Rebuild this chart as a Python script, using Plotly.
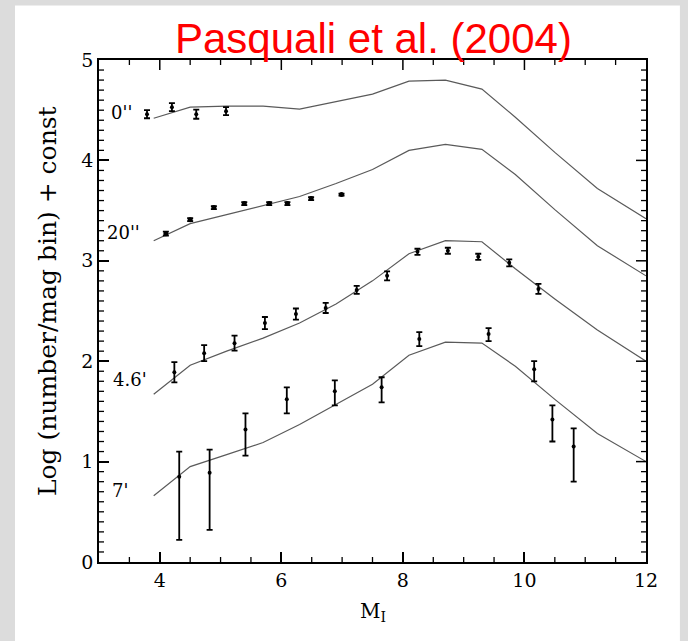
import numpy as np
import plotly.graph_objects as go

# ---- model curves (lines) ----
model_mag = [3.9, 4.5, 5.1, 5.7, 6.3, 6.9, 7.5, 8.1, 8.7, 9.3, 9.85, 10.5, 11.2, 12.0]
model_0s = [4.42, 4.53, 4.54, 4.54, 4.51, 4.585, 4.66, 4.79, 4.80, 4.71, 4.43, 4.08, 3.72, 3.42]
model_20s = [3.20, 3.37, 3.46, 3.55, 3.64, 3.77, 3.91, 4.10, 4.16, 4.11, 3.86, 3.51, 3.15, 2.85]
model_46m = [1.67, 1.96, 2.10, 2.23, 2.38, 2.57, 2.80, 3.07, 3.20, 3.19, 2.92, 2.62, 2.31, 2.00]
model_7m = [0.66, 0.95, 1.07, 1.19, 1.37, 1.57, 1.77, 2.06, 2.19, 2.18, 1.95, 1.62, 1.28, 1.00]

# ---- observed points ----
mag_0s = [3.79, 4.20, 4.60, 5.09]
lf_0s = [4.46, 4.53, 4.46, 4.49]
err_0s = [0.04, 0.04, 0.045, 0.04]

mag_20s = [4.10, 4.50, 4.89, 5.39, 5.80, 6.10, 6.49, 6.99]
lf_20s = [3.27, 3.41, 3.53, 3.57, 3.57, 3.57, 3.62, 3.66]
err_20s = [0.02, 0.015, 0.015, 0.015, 0.015, 0.015, 0.015, 0.01]

mag_46m = [4.24, 4.73, 5.23, 5.73, 6.24, 6.73, 7.24, 7.74, 8.24, 8.74, 9.24, 9.75, 10.23]
lf_46m = [1.89, 2.08, 2.18, 2.38, 2.47, 2.53, 2.71, 2.85, 3.09, 3.10, 3.04, 2.98, 2.72]
err_46m = [0.10, 0.08, 0.075, 0.06, 0.055, 0.05, 0.04, 0.045, 0.03, 0.03, 0.03, 0.035, 0.05]

mag_7m = [4.32, 4.82, 5.41, 6.09, 6.88, 7.65, 8.27, 9.41, 10.16, 10.46, 10.81]
lf_7m = [0.85, 0.89, 1.32, 1.62, 1.70, 1.74, 2.22, 2.27, 1.92, 1.42, 1.15]
err_7m_up = [0.25, 0.23, 0.16, 0.12, 0.11, 0.10, 0.07, 0.06, 0.08, 0.14, 0.18]
err_7m_dn = [0.63, 0.57, 0.26, 0.14, 0.14, 0.15, 0.07, 0.07, 0.12, 0.22, 0.35]

labels = ["0''", "20''", "4.6'", "7'"]
label_x = [3.37, 3.40, 3.51, 3.35]
label_y = [4.48, 3.28, 1.82, 0.71]

X_RANGE = [3, 12]
Y_RANGE = [0, 5]
X_MAJOR = [4, 6, 8, 10]
Y_MAJOR = [1, 2, 3, 4]
X_MINOR_STEP = 0.5
Y_MINOR_STEP = 0.1

SERIF = "DejaVu Serif, Liberation Serif, serif"
fig = go.Figure()

for ys in [model_0s, model_20s, model_46m, model_7m]:
    fig.add_trace(go.Scatter(x=model_mag, y=ys, mode="lines",
                             line=dict(color="#5a5a5a", width=1.2),
                             showlegend=False, hoverinfo="skip"))

def pts(x, y, eup, edn=None, size=4):
    ed = dict(type="data", array=eup, color="black", thickness=1.8, width=3)
    if edn is not None:
        ed["symmetric"] = False
        ed["arrayminus"] = edn
    fig.add_trace(go.Scatter(x=x, y=y, mode="markers",
                             marker=dict(color="black", size=size, symbol="circle"),
                             error_y=ed, showlegend=False))

pts(mag_0s, lf_0s, err_0s)
pts(mag_20s, lf_20s, err_20s, size=5)
pts(mag_46m, lf_46m, err_46m)
pts(mag_7m, lf_7m, err_7m_up, err_7m_dn)

for t, x, y in zip(labels, label_x, label_y):
    fig.add_annotation(x=x, y=y, text=t, showarrow=False,
                       font=dict(family=SERIF, size=18, color="black"),
                       xanchor="center", yanchor="middle")

# title
fig.add_annotation(xref="paper", yref="paper", x=0.502, y=1.043,
                   text="Pasquali et al. (2004)", showarrow=False,
                   font=dict(family="Liberation Sans", size=42, color="#ff0000"),
                   xanchor="center", yanchor="middle")
# axis titles
fig.add_annotation(xref="paper", yref="paper", x=0.5, y=-0.10,
                   text="M<sub>I</sub>", showarrow=False,
                   font=dict(family=SERIF, size=20, color="black"),
                   xanchor="center", yanchor="middle")
fig.add_annotation(xref="paper", yref="paper", x=-0.093, y=0.52,
                   text="Log (number/mag bin) + const", showarrow=False, textangle=-90,
                   font=dict(family=SERIF, size=25, color="black"),
                   xanchor="center", yanchor="middle")

# gray page border (outside plotting area)
GRAY = "#dcdcdc"
for (x0, x1, y0, y1) in [(-0.3, -0.1536, -0.3, 1.3), (1.062, 1.3, -0.3, 1.3),
                         (-0.3, 1.3, 1.1085, 1.3)]:
    fig.add_shape(type="rect", xref="paper", yref="paper", x0=x0, x1=x1, y0=y0, y1=y1,
                  fillcolor=GRAY, line=dict(width=0), layer="above")

# minor ticks (all sides) and mirrored major ticks (top/right), placed on the axis scales
x_minor = np.arange(X_RANGE[0] + X_MINOR_STEP, X_RANGE[1], X_MINOR_STEP)
y_minor = np.arange(Y_RANGE[0] + Y_MINOR_STEP, Y_RANGE[1] - 1e-9, Y_MINOR_STEP)

def xtick(v, side, length, width):
    anchor = 0 if side == "bottom" else 1
    sign = 1 if side == "bottom" else -1
    fig.add_shape(type="line", xref="x", yref="paper", ysizemode="pixel", yanchor=anchor,
                  x0=float(v), x1=float(v), y0=0, y1=sign * length,
                  line=dict(color="black", width=width), layer="above")

def ytick(v, side, length, width):
    anchor = 0 if side == "left" else 1
    sign = 1 if side == "left" else -1
    fig.add_shape(type="line", xref="paper", yref="y", xsizemode="pixel", xanchor=anchor,
                  y0=float(v), y1=float(v), x0=0, x1=sign * length,
                  line=dict(color="black", width=width), layer="above")

for v in x_minor:
    if round(v, 3) not in X_MAJOR:
        xtick(v, "bottom", 5, 1.3)
        xtick(v, "top", 5, 1.3)
for v in X_MAJOR:
    xtick(v, "top", 10, 1.5)
for v in y_minor:
    if round(v, 3) not in Y_MAJOR:
        ytick(v, "left", 5, 1.3)
        ytick(v, "right", 5, 1.3)
for v in Y_MAJOR:
    ytick(v, "right", 10, 1.5)

tickfont = dict(family=SERIF, size=19, color="black")
fig.update_xaxes(range=X_RANGE, tickmode="linear", tick0=0, dtick=2, ticks="inside",
                 ticklen=10, tickwidth=1.5, tickcolor="black", showgrid=False,
                 zeroline=False, showline=True, linecolor="black", linewidth=1.8,
                 mirror=True, tickfont=tickfont)
fig.update_yaxes(range=Y_RANGE, tickmode="linear", tick0=0, dtick=1, ticks="inside",
                 ticklen=10, tickwidth=1.5, tickcolor="black", showgrid=False,
                 zeroline=False, showline=True, linecolor="black", linewidth=1.8,
                 mirror=True, tickfont=tickfont)

fig.update_layout(width=688, height=641,
                  margin=dict(l=99, r=42, t=59.5, b=79.3, autoexpand=False),
                  paper_bgcolor="white", plot_bgcolor="white",
                  showlegend=False)

fig.write_html("out.html")
